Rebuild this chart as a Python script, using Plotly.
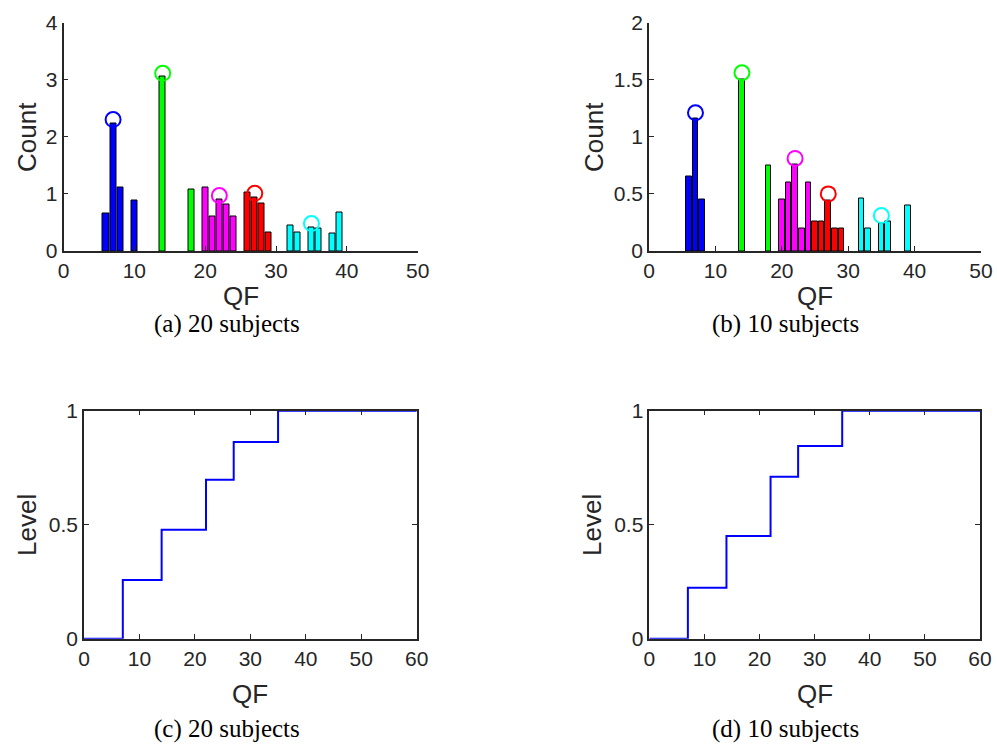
import plotly.graph_objects as go

W, H = 997, 746

# ---------------- data ----------------
# (a) 20 subjects histogram
a_blue_x = [6, 7, 8, 10]
a_blue_y = [0.65, 2.24, 1.12, 0.88]
a_green_x = [14, 18]
a_green_y = [3.06, 1.07]
a_mag_x = [20, 21, 22, 23, 24]
a_mag_y = [1.12, 0.60, 0.91, 0.82, 0.60]
a_red_x = [26, 27, 28, 29]
a_red_y = [1.03, 0.94, 0.83, 0.33]
a_cyan_x = [32, 33, 35, 36, 38, 39]
a_cyan_y = [0.45, 0.33, 0.42, 0.40, 0.31, 0.68]
a_peak_x = [7, 14, 22, 27, 35]
a_peak_y = [2.30, 3.11, 0.97, 1.01, 0.48]

# (b) 10 subjects histogram
b_blue_x = [6, 7, 8]
b_blue_y = [0.65, 1.16, 0.45]
b_green_x = [14, 18]
b_green_y = [1.50, 0.75]
b_mag_x = [20, 21, 22, 23, 24]
b_mag_y = [0.45, 0.60, 0.76, 0.20, 0.60]
b_red_x = [25, 26, 27, 28, 29]
b_red_y = [0.255, 0.255, 0.445, 0.20, 0.20]
b_cyan_x = [32, 33, 35, 36, 39]
b_cyan_y = [0.456, 0.20, 0.24, 0.26, 0.40]
b_peak_x = [7, 14, 22, 27, 35]
b_peak_y = [1.21, 1.56, 0.81, 0.50, 0.31]

# (c)/(d) level step functions
c_x = [0, 7, 14, 22, 27, 35, 60]
c_y = [0, 0.257, 0.478, 0.697, 0.863, 1.0, 1.0]
d_x = [0, 7, 14, 22, 27, 35, 60]
d_y = [0, 0.224, 0.45, 0.71, 0.845, 1.0, 1.0]

group_colors = ["#0000FF", "#00FF00", "#FF00FF", "#FF0000", "#00FFFF"]

captions = ["(a) 20 subjects", "(b) 10 subjects", "(c) 20 subjects", "(d) 10 subjects"]

# ---------------- figure ----------------
AX = "#262626"
fig = go.Figure()


def px_x(p):
    return p / W


def px_y(p):
    return 1 - p / H


def add_hist(groups, peaks, xa, ya):
    for (gx, gy), col in zip(groups, group_colors):
        fig.add_trace(go.Bar(x=gx, y=gy, width=0.85, marker=dict(color=col, line=dict(color="black", width=1)),
                             xaxis=xa, yaxis=ya, showlegend=False))
    px_, py_ = peaks
    fig.add_trace(go.Scatter(x=px_, y=py_, mode="markers", xaxis=xa, yaxis=ya, showlegend=False,
                             marker=dict(symbol="circle-open", size=15, color=group_colors,
                                         line=dict(width=2, color=group_colors))))


add_hist([(a_blue_x, a_blue_y), (a_green_x, a_green_y), (a_mag_x, a_mag_y), (a_red_x, a_red_y), (a_cyan_x, a_cyan_y)],
         (a_peak_x, a_peak_y), "x", "y")
add_hist([(b_blue_x, b_blue_y), (b_green_x, b_green_y), (b_mag_x, b_mag_y), (b_red_x, b_red_y), (b_cyan_x, b_cyan_y)],
         (b_peak_x, b_peak_y), "x2", "y2")

fig.add_trace(go.Scatter(x=c_x, y=c_y, mode="lines", line=dict(color="#0000FF", width=2, shape="hv"),
                         xaxis="x3", yaxis="y3", showlegend=False))
fig.add_trace(go.Scatter(x=d_x, y=d_y, mode="lines", line=dict(color="#0000FF", width=2, shape="hv"),
                         xaxis="x4", yaxis="y4", showlegend=False))

tickfont = dict(family="Liberation Sans, Arial, sans-serif", size=21, color=AX)
common = dict(showline=True, linecolor=AX, linewidth=1.5, ticks="inside", ticklen=5, tickcolor=AX,
              tickwidth=1, showgrid=False, zeroline=False, tickfont=tickfont, fixedrange=True,
              automargin=False)

top_y = [px_y(251), px_y(22.5)]
bot_y = [px_y(638.7), px_y(410.7)]

fig.update_layout(
    width=W, height=H, margin=dict(l=0, r=0, t=0, b=0, pad=0), autosize=False,
    paper_bgcolor="white", plot_bgcolor="white", barmode="overlay", bargap=0,
    xaxis=dict(domain=[px_x(63.5), px_x(417.7)], range=[0, 50], tickvals=[0, 10, 20, 30, 40, 50],
               anchor="y", mirror=False, **common),
    yaxis=dict(domain=top_y, range=[0, 4], tickvals=[0, 1, 2, 3, 4], anchor="x", mirror=False, **common),
    xaxis2=dict(domain=[px_x(649), px_x(981)], range=[0, 50], tickvals=[0, 10, 20, 30, 40, 50],
                anchor="y2", mirror=False, **common),
    yaxis2=dict(domain=top_y, range=[0, 2], tickvals=[0, 0.5, 1, 1.5, 2], ticktext=["0", "0.5", "1", "1.5", "2"],
                anchor="x2", mirror=False, **common),
    xaxis3=dict(domain=[px_x(84), px_x(416.7)], range=[0, 60], tickvals=[0, 10, 20, 30, 40, 50, 60],
                anchor="y3", mirror="ticks", **common),
    yaxis3=dict(domain=bot_y, range=[0, 1], tickvals=[0, 0.5, 1], ticktext=["0", "0.5", "1"],
                anchor="x3", mirror="ticks", **common),
    xaxis4=dict(domain=[px_x(649.3), px_x(980)], range=[0, 60], tickvals=[0, 10, 20, 30, 40, 50, 60],
                anchor="y4", mirror="ticks", **common),
    yaxis4=dict(domain=bot_y, range=[0, 1], tickvals=[0, 0.5, 1], ticktext=["0", "0.5", "1"],
                anchor="x4", mirror="ticks", **common),
)

labfont = dict(family="Liberation Sans, Arial, sans-serif", size=26, color=AX)
capfont = dict(family="Liberation Serif, Times New Roman, serif", size=25, color="black")

ann = []
# y labels
for (x, y, t) in [(27, 137, "Count"), (594, 137, "Count"), (27, 525, "Level"), (592, 525, "Level")]:
    ann.append(dict(x=px_x(x), y=px_y(y), xref="paper", yref="paper", text=t, textangle=-90,
                    showarrow=False, font=labfont, xanchor="center", yanchor="middle"))
# x labels
for (x, y) in [(241, 296), (815, 296), (250, 694), (815, 694)]:
    ann.append(dict(x=px_x(x), y=px_y(y), xref="paper", yref="paper", text="QF",
                    showarrow=False, font=labfont, xanchor="center", yanchor="middle"))
# captions
for (x, y), t in zip([(227, 324), (785, 324), (227, 729), (785, 729)], captions):
    ann.append(dict(x=px_x(x), y=px_y(y), xref="paper", yref="paper", text=t,
                    showarrow=False, font=capfont, xanchor="center", yanchor="middle"))
fig.update_layout(annotations=ann)

fig.write_html("out.html", config={"displayModeBar": False},
               post_script="document.body.style.margin='0';document.body.style.overflow='hidden';")
